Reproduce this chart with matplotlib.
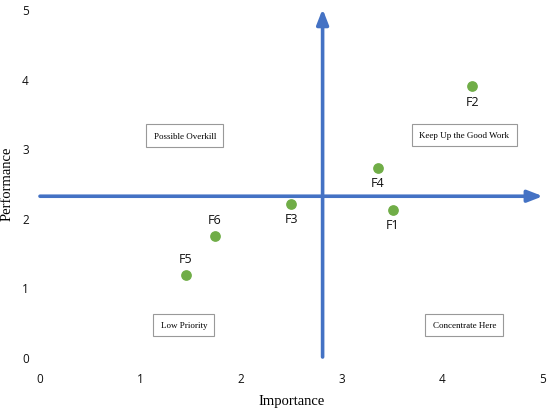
import matplotlib.pyplot as plt

# importance-performance data
factors = ['F1', 'F2', 'F3', 'F4', 'F5', 'F6']
importance = [3.51, 4.30, 2.50, 3.36, 1.45, 1.74]
performance = [2.11, 3.89, 2.20, 2.72, 1.18, 1.74]
label_above = [False, False, False, False, True, True]

# crosshair (means)
cross_x = 2.81
cross_y = 2.31

quadrants = ['Possible Overkill', 'Keep Up the Good Work', 'Low Priority', 'Concentrate Here']
quad_x = [1.44, 4.22, 1.43, 4.22]
quad_y = [3.18, 3.19, 0.46, 0.46]

fig = plt.figure(figsize=(5.5, 4.1), dpi=100)
ax = fig.add_axes([0.0727, 0.1268, 0.9143, 0.8488])
ax.set_xlim(0, 5)
ax.set_ylim(0, 5)
for s in ax.spines.values():
    s.set_visible(False)

blue = '#4472C4'
ax.annotate('', xy=(5, cross_y), xytext=(0, cross_y),
            arrowprops=dict(arrowstyle='-|>,head_length=0.9,head_width=0.35', color=blue, lw=2.6,
                            shrinkA=0, shrinkB=0))
ax.annotate('', xy=(cross_x, 5), xytext=(cross_x, 0),
            arrowprops=dict(arrowstyle='-|>,head_length=0.9,head_width=0.35', color=blue, lw=2.6,
                            shrinkA=0, shrinkB=0))

ax.scatter(importance, performance, s=45, color='#70AD47', zorder=3)
for f, x, y, up in zip(factors, importance, performance, label_above):
    if up:
        ax.annotate(f, (x, y), xytext=(0, 7), textcoords='offset points', ha='center', va='bottom',
                    fontsize=9, family='Open Sans', color='#111111')
    else:
        ax.annotate(f, (x, y), xytext=(0, -6), textcoords='offset points', ha='center', va='top',
                    fontsize=9, family='Open Sans', color='#111111')

for t, x, y in zip(quadrants, quad_x, quad_y):
    ax.text(x, y, t, ha='center', va='center', fontsize=6.5, family='Liberation Serif',
            bbox=dict(boxstyle='square,pad=0.8', fc='white', ec='#999999', lw=0.8))

ax.set_xticks([0, 1, 2, 3, 4, 5])
ax.set_yticks([0, 1, 2, 3, 4, 5])
ax.tick_params(length=0, labelsize=8.5, colors='#111111', pad=0)
ax.tick_params(axis='x', pad=11)
ax.tick_params(axis='y', pad=8)
for lab in ax.get_xticklabels() + ax.get_yticklabels():
    lab.set_family('Open Sans')

ax.set_xlabel('Importance', fontsize=10.5, family='Liberation Serif', labelpad=6)
ax.set_ylabel('Performance', fontsize=10.5, family='Liberation Serif', labelpad=6)

fig.savefig('out.png', dpi=100)
